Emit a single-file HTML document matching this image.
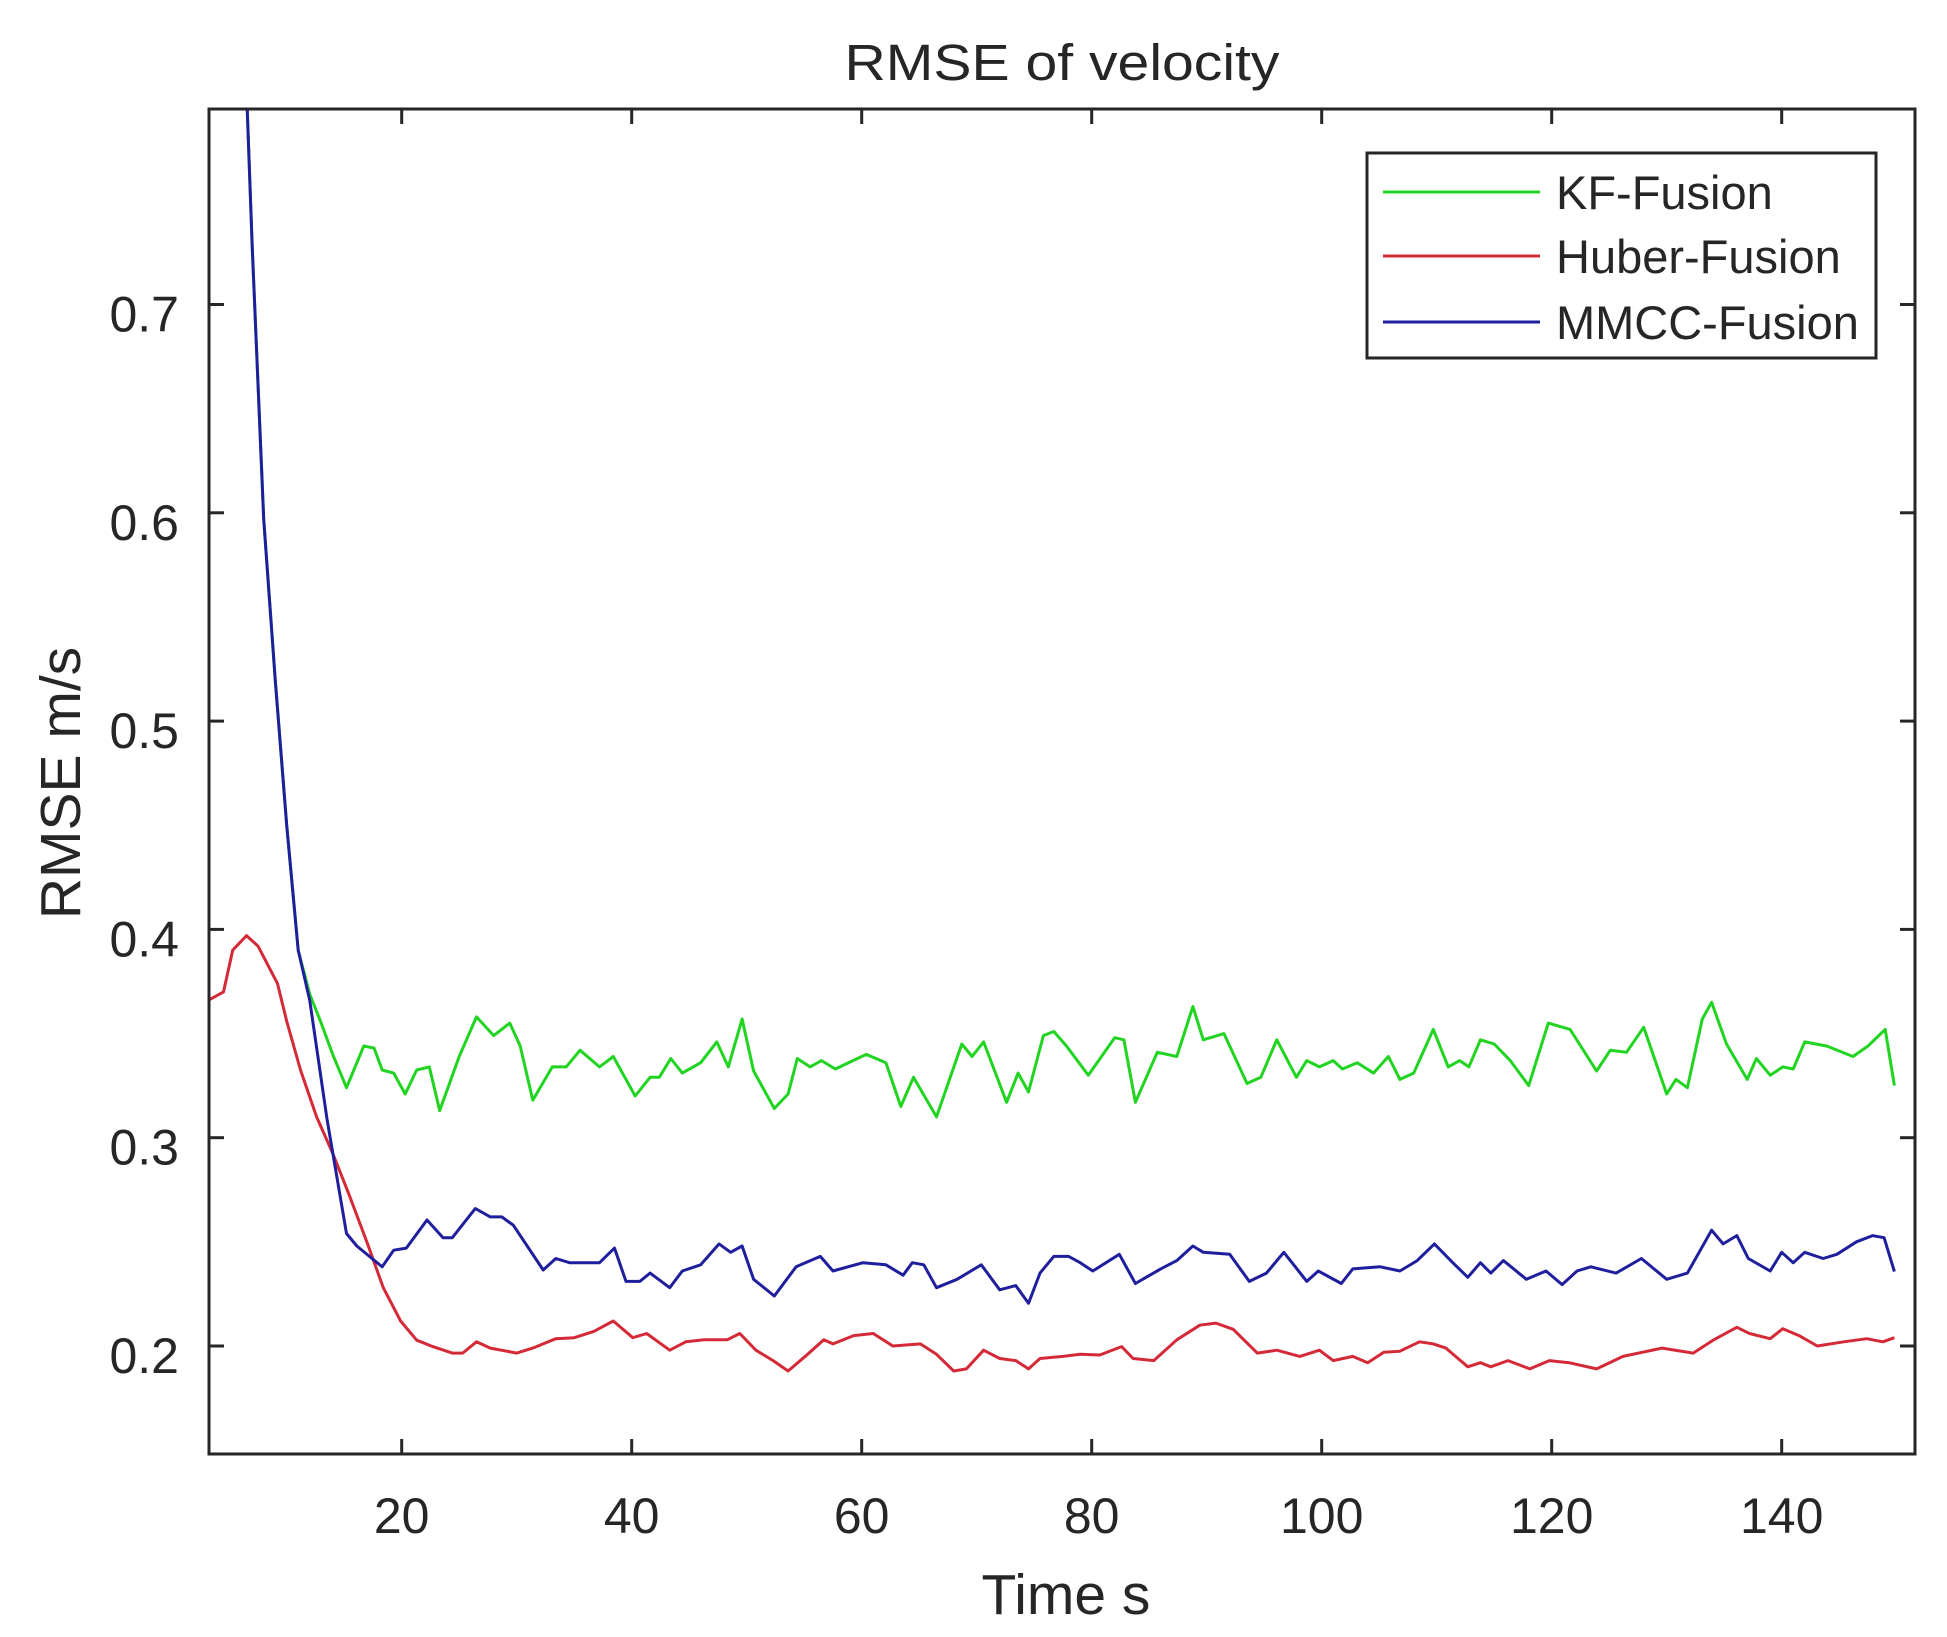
<!DOCTYPE html>
<html>
<head>
<meta charset="utf-8">
<style>
  html, body { margin: 0; padding: 0; background: #fff; }
  svg { display: block; }
  text { font-family: "Liberation Sans", Arial, sans-serif; fill: #262626; }
</style>
</head>
<body>
<svg id="chart" width="1947" height="1637" viewBox="0 0 1947 1637" xmlns="http://www.w3.org/2000/svg">
  <rect x="0" y="0" width="1947" height="1637" fill="#ffffff"/>
  <defs>
    <clipPath id="plotClip"><rect x="209" y="109" width="1706" height="1345"/></clipPath>
  </defs>
  <text x="1062" y="80" font-size="51" text-anchor="middle" textLength="435" lengthAdjust="spacingAndGlyphs">RMSE of velocity</text>
  <g id="series" clip-path="url(#plotClip)"></g>
  <rect x="209" y="109" width="1706" height="1345" fill="none" stroke="#262626" stroke-width="3"/>
  <g id="ticks"></g>
  <text x="1066" y="1614" font-size="57" text-anchor="middle">Time s</text>
  <text x="0" y="0" font-size="57" text-anchor="middle" transform="translate(80,783) rotate(-90)">RMSE m/s</text>
  <g>
    <rect x="1367" y="153" width="509" height="205" fill="#ffffff" stroke="#262626" stroke-width="3"/>
    <line x1="1383" y1="192" x2="1540" y2="192" stroke="#22d422" stroke-width="3"/>
    <text x="1556" y="209" font-size="47">KF-Fusion</text>
    <line x1="1383" y1="256" x2="1540" y2="256" stroke="#d42a38" stroke-width="3"/>
    <text x="1556" y="273" font-size="47">Huber-Fusion</text>
    <line x1="1383" y1="322" x2="1540" y2="322" stroke="#1f1f9e" stroke-width="3"/>
    <text x="1556" y="339" font-size="47">MMCC-Fusion</text>
  </g>
</svg>
<script>
const xTicks = [20, 40, 60, 80, 100, 120, 140];
const yTicks = [0.2, 0.3, 0.4, 0.5, 0.6, 0.7];
const yTickLabels = ["0.2", "0.3", "0.4", "0.5", "0.6", "0.7"];

const kfT = [4,5,6,7,8,9,10,11,12,13,14,15.2,16.7,17.6,18.3,19.3,20.3,21.3,22.4,23.3,25.0,26.5,28.0,29.4,30.3,31.4,33.1,34.3,35.5,37.2,38.4,40.3,41.6,42.4,43.4,44.4,46.0,47.4,48.4,49.6,50.6,52.4,53.6,54.4,55.5,56.5,57.7,60.4,62.1,63.4,64.5,66.5,68.7,69.6,70.6,72.6,73.6,74.5,75.8,76.7,77.8,79.7,82.0,82.8,83.8,85.7,87.4,88.8,89.7,91.5,93.5,94.7,96.1,97.8,98.7,99.8,101.0,101.8,103.1,104.5,105.8,106.8,108.0,109.7,111.0,112.0,112.8,113.8,115.0,116.4,118.0,119.7,121.6,123.9,125.1,126.5,128.0,130.0,130.8,131.8,133.1,133.9,135.2,137.0,137.8,139.0,140.1,141.0,142.0,143.9,146.2,147.5,149.0,149.8];
const kfV = [1.2,1.05,0.88,0.728,0.597,0.52,0.45,0.39,0.369,0.355,0.34,0.324,0.344,0.343,0.3325,0.331,0.321,0.3325,0.334,0.313,0.339,0.358,0.349,0.355,0.344,0.318,0.334,0.334,0.342,0.334,0.339,0.320,0.329,0.329,0.338,0.331,0.336,0.346,0.334,0.357,0.332,0.314,0.321,0.338,0.334,0.337,0.333,0.340,0.336,0.315,0.329,0.310,0.345,0.339,0.346,0.317,0.331,0.322,0.349,0.351,0.344,0.330,0.348,0.347,0.317,0.341,0.339,0.363,0.347,0.350,0.326,0.329,0.347,0.329,0.337,0.334,0.337,0.333,0.336,0.331,0.339,0.328,0.331,0.352,0.334,0.337,0.334,0.347,0.345,0.337,0.325,0.355,0.352,0.332,0.342,0.341,0.353,0.321,0.328,0.324,0.357,0.365,0.345,0.328,0.338,0.330,0.334,0.333,0.346,0.344,0.339,0.344,0.352,0.325];

const huberT = [3.2,4.5,5.3,6.5,7.5,9.2,10.0,11.2,12.6,14.0,15.4,17.0,18.4,19.9,21.3,22.7,24.4,25.3,26.5,27.7,30.0,31.4,33.4,35.0,36.7,38.4,40.1,41.3,43.3,44.7,46.3,48.3,49.4,50.8,52.3,53.6,55.3,56.7,57.5,59.3,61.0,62.7,65.1,66.5,68.0,69.1,70.6,72.0,73.4,74.5,75.5,77.5,79.0,80.7,82.6,83.6,85.4,87.4,89.4,90.8,92.3,94.4,96.1,98.1,99.8,101.0,102.7,104.0,105.4,106.8,108.5,109.7,110.8,112.7,113.8,114.7,116.2,118.1,119.8,121.5,123.9,126.2,129.6,132.3,134.1,136.1,137.2,139.0,140.1,141.5,143.1,145.4,147.4,148.8,149.8];
const huberV = [0.366,0.370,0.390,0.397,0.392,0.374,0.356,0.3325,0.310,0.2925,0.273,0.2495,0.228,0.212,0.2028,0.1997,0.1966,0.1966,0.202,0.199,0.1966,0.199,0.2035,0.204,0.207,0.212,0.204,0.206,0.198,0.202,0.203,0.203,0.206,0.198,0.193,0.188,0.196,0.203,0.201,0.205,0.206,0.200,0.201,0.196,0.188,0.189,0.198,0.194,0.193,0.189,0.194,0.195,0.196,0.1957,0.1997,0.194,0.193,0.203,0.210,0.211,0.208,0.1966,0.198,0.195,0.198,0.193,0.195,0.192,0.197,0.1975,0.202,0.201,0.199,0.190,0.192,0.190,0.193,0.189,0.193,0.192,0.189,0.195,0.199,0.1966,0.203,0.209,0.206,0.2035,0.2083,0.205,0.200,0.202,0.2035,0.202,0.204];

const mmccT = [4,5,6,7,8,9,10,11,12,13.5,15.2,16.1,18.3,19.3,20.4,22.2,23.6,24.4,26.4,27.7,28.7,29.7,32.3,33.4,34.6,35.8,37.2,38.5,39.5,40.7,41.6,43.3,44.4,46.0,47.6,48.6,49.6,50.6,52.4,54.3,56.4,57.5,60.1,62.1,63.6,64.4,65.4,66.5,68.3,70.4,72.0,73.4,74.5,75.5,76.7,78.0,79.0,80.1,82.4,83.8,86.0,87.4,88.8,89.7,92.0,93.7,95.2,96.7,98.7,99.7,101.7,102.7,105.1,106.8,108.3,109.8,111.4,112.7,113.8,114.7,115.8,117.8,119.5,120.9,122.2,123.4,125.6,127.8,130.0,131.8,133.9,134.9,136.1,137.1,139.0,140.0,141.0,142.0,143.6,144.8,146.5,147.9,148.9,149.8];
const mmccV = [1.2,1.05,0.88,0.728,0.597,0.52,0.45,0.39,0.366,0.309,0.254,0.248,0.238,0.246,0.247,0.2605,0.252,0.252,0.266,0.262,0.262,0.258,0.2365,0.242,0.240,0.240,0.240,0.247,0.231,0.231,0.235,0.228,0.236,0.239,0.249,0.245,0.248,0.232,0.224,0.238,0.243,0.236,0.240,0.239,0.234,0.240,0.239,0.228,0.232,0.239,0.227,0.229,0.2205,0.235,0.243,0.243,0.240,0.236,0.244,0.230,0.237,0.241,0.248,0.245,0.244,0.231,0.235,0.245,0.231,0.236,0.230,0.237,0.238,0.236,0.241,0.249,0.240,0.233,0.240,0.235,0.241,0.232,0.236,0.2295,0.236,0.238,0.235,0.242,0.232,0.235,0.2556,0.249,0.253,0.242,0.236,0.245,0.240,0.245,0.242,0.244,0.250,0.253,0.252,0.2357];

const X0 = 209, X1 = 1915, Y0 = 109, Y1 = 1454;
const xMin = 3.16, xMax = 151.6;
function xs(t) { return 1781.7 + (t - 140) * 11.5; }
function ys(v) { return 1346 - (v - 0.2) * 2083; }

const NS = "http://www.w3.org/2000/svg";
const seriesG = document.getElementById("series");
const tickG = document.getElementById("ticks");

function drawSeries(ts, vs, color, name) {
  const p = document.createElementNS(NS, "polyline");
  p.setAttribute("points", ts.map((t, i) => xs(t).toFixed(1) + "," + ys(vs[i]).toFixed(1)).join(" "));
  p.setAttribute("fill", "none");
  p.setAttribute("stroke", color);
  p.setAttribute("stroke-width", "3");
  p.setAttribute("stroke-linejoin", "round");
  
  
  seriesG.appendChild(p);
}
drawSeries(kfT, kfV, "#22d422", "kf-fusion-line");
drawSeries(huberT, huberV, "#d42a38", "huber-fusion-line");
drawSeries(mmccT, mmccV, "#1f1f9e", "mmcc-fusion-line");

function mkLine(x1, y1, x2, y2) {
  const l = document.createElementNS(NS, "line");
  l.setAttribute("x1", x1); l.setAttribute("y1", y1);
  l.setAttribute("x2", x2); l.setAttribute("y2", y2);
  l.setAttribute("stroke", "#262626"); l.setAttribute("stroke-width", "3");
  return l;
}
xTicks.forEach(t => {
  const x = xs(t);
  const b = mkLine(x, Y1, x, Y1 - 15);
  
  
  tickG.appendChild(b);
  const tp = mkLine(x, Y0, x, Y0 + 15);
  
  
  tickG.appendChild(tp);
  const tx = document.createElementNS(NS, "text");
  tx.setAttribute("x", x); tx.setAttribute("y", 1533);
  tx.setAttribute("font-size", "50"); tx.setAttribute("text-anchor", "middle");
  tx.textContent = String(t);
  
  
  tickG.appendChild(tx);
});
yTicks.forEach((v, i) => {
  const y = ys(v);
  const l = mkLine(X0, y, X0 + 15, y);
  
  
  tickG.appendChild(l);
  const r = mkLine(X1, y, X1 - 15, y);
  
  
  tickG.appendChild(r);
  const tx = document.createElementNS(NS, "text");
  tx.setAttribute("x", 179); tx.setAttribute("y", y + 27);
  tx.setAttribute("font-size", "50"); tx.setAttribute("text-anchor", "end");
  tx.textContent = yTickLabels[i];
  
  
  tickG.appendChild(tx);
});
</script>
</body>
</html>
